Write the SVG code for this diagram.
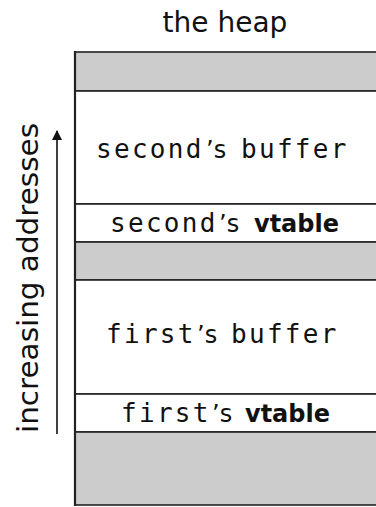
<svg xmlns="http://www.w3.org/2000/svg" width="376" height="507" viewBox="0 0 376 507">
  <style>
    .title { font-family: "DejaVu Sans", "Liberation Sans", sans-serif; font-size: 28px; fill: #111; }
    .tt { font-family: "DejaVu Sans Mono", "Liberation Mono", monospace; font-size: 26px; letter-spacing: 2.3px; fill: #111; }
    .sf { font-family: "DejaVu Sans", "Liberation Sans", sans-serif; font-size: 24px; fill: #111; }
    .bf { font-family: "DejaVu Sans", "Liberation Sans", sans-serif; font-size: 24px; font-weight: bold; fill: #111; }
    .free { fill: #cccccc; stroke: #222; stroke-width: 1.6; }
    .used { fill: #ffffff; stroke: #222; stroke-width: 1.6; }
  </style>
  <defs>
    <marker id="head" viewBox="0 0 10 10" refX="9" refY="5" markerWidth="10" markerHeight="10" markerUnits="userSpaceOnUse" orient="auto">
      <path d="M0,0 L10,5 L0,10 z" fill="#111"/>
    </marker>
  </defs>

  <rect width="376" height="507" fill="#ffffff"/>

  <text class="title" x="225" y="32" text-anchor="middle">the heap</text>

  <!-- heap blocks, bottom of memory at the bottom -->
  <g id="free-top"><rect class="free" x="75" y="52" width="310" height="39"/></g>
  <g id="second-buffer">
    <rect class="used" x="75" y="91" width="310" height="113"/>
    <text y="158"><tspan class="tt" x="96">second</tspan><tspan class="sf" x="206">’s</tspan><tspan class="tt" x="241">buffer</tspan></text>
  </g>
  <g id="second-vtable">
    <rect class="used" x="75" y="204" width="310" height="38"/>
    <text y="232"><tspan class="tt" x="110">second</tspan><tspan class="sf" x="219">’s</tspan><tspan class="bf" x="254">vtable</tspan></text>
  </g>
  <g id="free-middle"><rect class="free" x="75" y="242" width="310" height="38"/></g>
  <g id="first-buffer">
    <rect class="used" x="75" y="280" width="310" height="114"/>
    <text y="343"><tspan class="tt" x="106">first</tspan><tspan class="sf" x="197">’s</tspan><tspan class="tt" x="231">buffer</tspan></text>
  </g>
  <g id="first-vtable">
    <rect class="used" x="75" y="394" width="310" height="38"/>
    <text y="422"><tspan class="tt" x="121">first</tspan><tspan class="sf" x="212">’s</tspan><tspan class="bf" x="245">vtable</tspan></text>
  </g>
  <g id="free-bottom"><rect class="free" x="75" y="432" width="310" height="73"/></g>
  <line x1="75" y1="51" x2="75" y2="506" stroke="#222" stroke-width="2.2"/>

  <!-- address axis -->
  <g id="connectors">
    <line x1="57" y1="434" x2="57" y2="131" stroke="#111" stroke-width="1.6" marker-end="url(#head)"/>
  </g>
  <text class="title" transform="translate(38,278) rotate(-90)" text-anchor="middle" textLength="310" lengthAdjust="spacingAndGlyphs">increasing addresses</text>
</svg>
